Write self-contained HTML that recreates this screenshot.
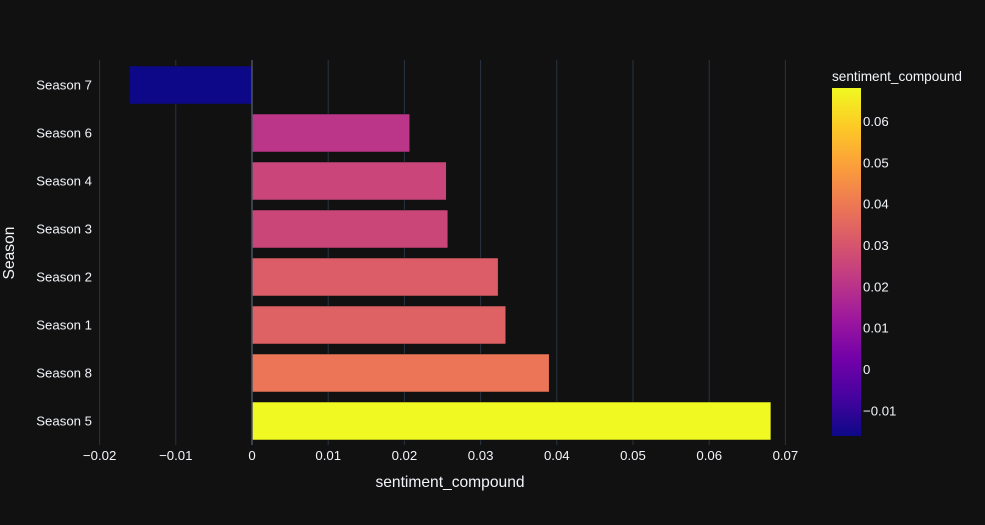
<!DOCTYPE html>
<html><head><meta charset="utf-8"><style>
html,body{margin:0;padding:0;background:#111111;}
svg{display:block;font-family:"Liberation Sans",sans-serif;}
</style></head><body>
<svg id="chart" width="985" height="525">
<defs>
<linearGradient id="plasma" x1="0" y1="1" x2="0" y2="0">
<stop offset="0" stop-color="#0d0887"/><stop offset="0.111" stop-color="#46039f"/><stop offset="0.222" stop-color="#7201a8"/><stop offset="0.333" stop-color="#9c179e"/><stop offset="0.444" stop-color="#bd3786"/><stop offset="0.556" stop-color="#d8576b"/><stop offset="0.667" stop-color="#ed7953"/><stop offset="0.778" stop-color="#fb9f3a"/><stop offset="0.889" stop-color="#fdca26"/><stop offset="1" stop-color="#f0f921"/>
</linearGradient>
</defs>
<rect width="985" height="525" fill="#111111"/>
<g id="grid"></g><g id="bars"></g><g id="axes"></g><g id="cbar"></g>
</svg>
<script>
const categories = ["Season 7","Season 6","Season 4","Season 3","Season 2","Season 1","Season 8","Season 5"];
const values = [-0.0161,0.0207,0.0255,0.0257,0.0323,0.0333,0.0390,0.0681];
const xTicks = [-0.02,-0.01,0,0.01,0.02,0.03,0.04,0.05,0.06,0.07];
const xTickLabels = ["−0.02","−0.01","0","0.01","0.02","0.03","0.04","0.05","0.06","0.07"];
const cTicks = [-0.01,0,0.01,0.02,0.03,0.04,0.05,0.06];
const cTickLabels = ["−0.01","0","0.01","0.02","0.03","0.04","0.05","0.06"];

const NS="http://www.w3.org/2000/svg";
const xpx=7620;
const xs=v=>252+v*xpx;
const plotTop=61, step=48;
const ys=i=>plotTop+step*(i+0.5);
const cmin=Math.min(...values), cmax=Math.max(...values);
const cy0=88, cy1=436;
const cs=v=>cy1-(v-cmin)/(cmax-cmin)*(cy1-cy0);
const plasma=["#0d0887","#46039f","#7201a8","#9c179e","#bd3786","#d8576b","#ed7953","#fb9f3a","#fdca26","#f0f921"];
function hex(h){return [1,3,5].map(i=>parseInt(h.substr(i,2),16));}
function color(v){let t=(v-cmin)/(cmax-cmin)*9;let i=Math.min(8,Math.floor(t));let f=t-i;let a=hex(plasma[i]),b=hex(plasma[i+1]);return "rgb("+a.map((c,k)=>Math.round(c+(b[k]-c)*f)).join(",")+")";}
function mk(tag,attrs,parent,text){const e=document.createElementNS(NS,tag);for(const k in attrs)e.setAttribute(k,attrs[k]);if(text!==undefined)e.textContent=text;parent.appendChild(e);return e;}
const grid=document.getElementById('grid'),bars=document.getElementById('bars'),axes=document.getElementById('axes'),cb=document.getElementById('cbar');
xTicks.forEach((t,i)=>{
  if(t!==0){const l=mk('line',{x1:xs(t),x2:xs(t),y1:plotTop-1,y2:plotTop+step*8,stroke:'#283442','stroke-width':1},grid);
  
  }
  const tx=mk('text',{x:xs(t),y:460,'text-anchor':'middle','font-size':13.2,fill:'#f2f5fa'},axes,xTickLabels[i]);
  
  
});
categories.forEach((c,i)=>{
  const v=values[i];
  const r=mk('rect',{x:Math.min(xs(0),xs(v)),y:ys(i)-19,width:Math.abs(xs(v)-xs(0)),height:38,fill:color(v),stroke:'#111111','stroke-width':0.5},bars);
  
  
  const t=mk('text',{x:92,y:ys(i)+4.5,'text-anchor':'end','font-size':13.2,fill:'#f2f5fa'},axes,c);
  
  
});
const z=mk('line',{x1:xs(0),x2:xs(0),y1:plotTop-1,y2:plotTop+step*8,stroke:'#4a5260','stroke-width':1.5},axes);


const xt=mk('text',{x:450,y:487,'text-anchor':'middle','font-size':15.6,fill:'#f2f5fa'},axes,'sentiment_compound');


const yt=mk('text',{x:14,y:253,'text-anchor':'middle','font-size':15.6,fill:'#f2f5fa',transform:'rotate(-90 14 253)'},axes,'Season');


const cr=mk('rect',{x:832,y:cy0,width:29,height:cy1-cy0,fill:'url(#plasma)'},cb);


const ct=mk('text',{x:832,y:81,'font-size':13.6,fill:'#f2f5fa'},cb,'sentiment_compound');


cTicks.forEach((t,i)=>{
  const e=mk('text',{x:863,y:cs(t)+4.5,'font-size':13.2,fill:'#f2f5fa'},cb,cTickLabels[i]);
  
  
});
</script>
</body></html>
